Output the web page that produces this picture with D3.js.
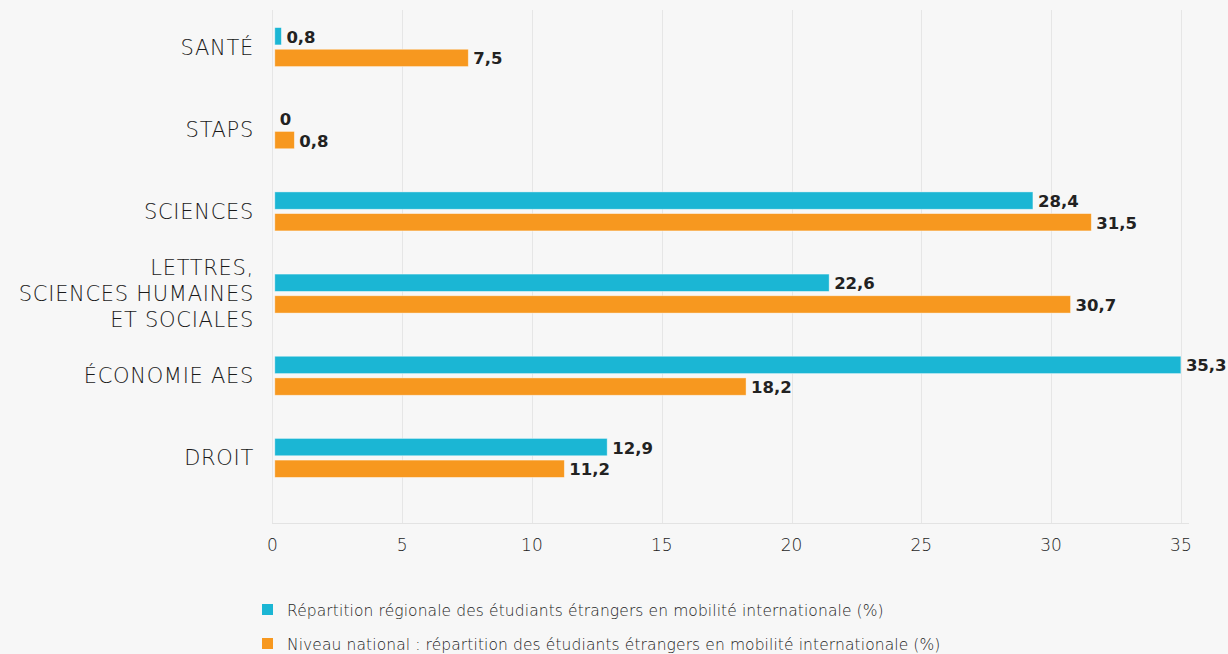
<!DOCTYPE html>
<html><head><meta charset="utf-8">
<script src="https://cdn.jsdelivr.net/npm/d3@7"></script>
<style>
html,body{margin:0;padding:0;background:#f7f7f7;}
svg{display:block;}
</style></head>
<body>
<svg id="chart" width="1228" height="654"></svg>
<script>
const categories = ["SANTÉ", "STAPS", "SCIENCES", "LETTRES,\nSCIENCES HUMAINES\nET SOCIALES", "ÉCONOMIE AES", "DROIT"];
// bar lengths as drawn in the picture
const regional = [0.35, 0, 29.3, 21.45, 35.3, 12.9];
const national = [7.55, 0.85, 31.55, 30.75, 18.25, 11.25];
// value labels as printed in the picture
const regionalLabels = ["0,8", "0", "28,4", "22,6", "35,3", "12,9"];
const nationalLabels = ["7,5", "0,8", "31,5", "30,7", "18,2", "11,2"];
const xTicks = [0, 5, 10, 15, 20, 25, 30, 35];
const seriesNames = [
  "Répartition régionale des étudiants étrangers en mobilité internationale (%)",
  "Niveau national : répartition des étudiants étrangers en mobilité internationale (%)"
];
const colors = ["#1bb6d4", "#f7981f"];

const svg = d3.select("#chart");
const font = "'DejaVu Sans', sans-serif";
const x = d3.scaleLinear().domain([0, 35]).range([272.3, 1180.9]).clamp(true);
const y = d3.scaleBand().domain(categories).range([6, 499]);
const inner = d3.scaleBand().domain([0, 1]).range([-19.5, 19.5]).paddingInner(0.2);

// gridlines
svg.append("g").selectAll("line").data(xTicks).join("line")
  .attr("x1", d => Math.round(x(d)) + 0.5).attr("x2", d => Math.round(x(d)) + 0.5)
  .attr("y1", 10).attr("y2", 523)
  .attr("stroke", "#e6e6e6").attr("stroke-width", 1);
// axis line
svg.append("line").attr("x1", 272).attr("x2", 1189).attr("y1", 523.5).attr("y2", 523.5)
  .attr("stroke", "#e3e3e3");

// x tick labels
svg.append("g").selectAll("text").data(xTicks).join("text")
  .attr("x", d => x(d)).attr("y", 551)
  .attr("text-anchor", "middle")
  .attr("font-family", font).attr("font-size", 17).attr("font-weight", 300).attr("fill", "#1e1e1e")
  .text(d => d);

// category labels
const cat = svg.append("g").selectAll("text").data(categories).join("text")
  .attr("text-anchor", "end")
  .attr("font-family", font).attr("font-size", 21).attr("font-weight", 300).attr("fill", "#1a1a1a")
  .attr("letter-spacing", 0.7)
  .attr("transform", d => `translate(254,${y(d) + y.bandwidth() / 2})`);
cat.each(function(d) {
  const lines = d.split("\n");
  const t = d3.select(this);
  lines.forEach((l, i) => {
    t.append("tspan").attr("x", 0)
      .attr("y", (i - (lines.length - 1) / 2) * 26 + 7.5)
      .text(l);
  });
});

// bars
const series = [regional, national];
const labels = [regionalLabels, nationalLabels];
series.forEach((vals, si) => {
  const g = svg.append("g");
  g.selectAll("rect").data(categories).join("rect")
    .attr("x", x(0) + 2.5)
    .attr("y", (d) => y(d) + y.bandwidth() / 2 + inner(si))
    .attr("width", (d, i) => Math.max(0, x(vals[i]) - x(0) - 2.5))
    .attr("height", inner.bandwidth())
    .attr("fill", colors[si])
    .attr("stroke", "#ffffff").attr("stroke-width", 0.8).attr("stroke-opacity", 0.5);
  g.selectAll("text").data(categories).join("text")
    .attr("x", (d, i) => Math.max(x(vals[i]), x(0) + 2.5) + 5)
    .attr("y", (d) => y(d) + y.bandwidth() / 2 + inner(si) + inner.bandwidth() / 2 + 6.5)
    .attr("font-family", font).attr("font-size", 16.5).attr("font-weight", 600).attr("fill", "#222")
    .text((d, i) => labels[si][i]);
});

// legend
const leg = svg.append("g").selectAll("g").data(seriesNames).join("g")
  .attr("transform", (d, i) => `translate(262,${604 + i * 34})`);
leg.append("rect").attr("width", 11).attr("height", 11).attr("fill", (d, i) => colors[i]);
leg.append("text").attr("x", 25).attr("y", 12)
  .attr("font-family", font).attr("font-size", 15.5).attr("font-weight", 300).attr("fill", "#1e1e1e")
  .attr("letter-spacing", 0.1)
  .text(d => d);
</script>
</body></html>
